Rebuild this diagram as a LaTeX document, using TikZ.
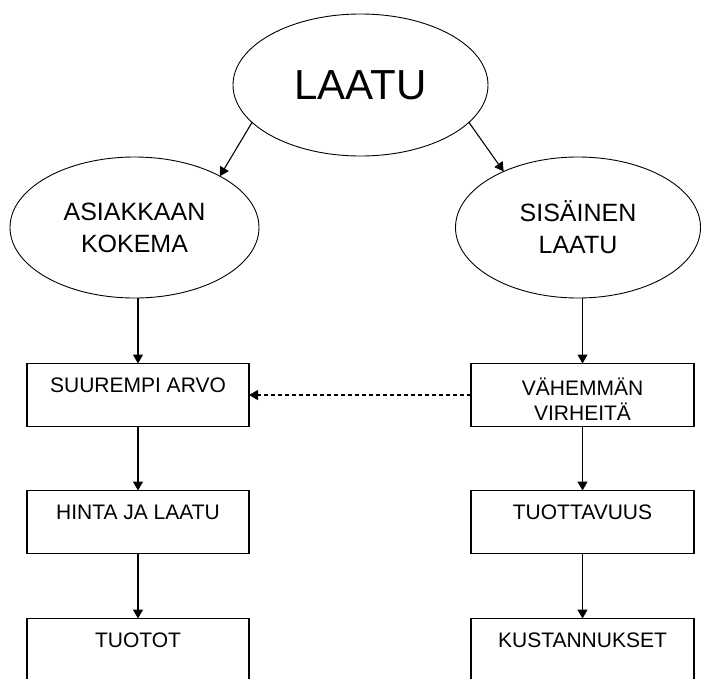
\documentclass[tikz,border=0pt]{standalone}
\usepackage{fontspec}
\setmainfont{Liberation Sans}
\usetikzlibrary{shapes.geometric,arrows.meta}

\begin{document}
\begin{tikzpicture}[x=1pt,y=-1pt,
        oval/.style={draw, ellipse, line width=0.9pt, inner sep=0pt, outer sep=0pt,
            align=center, font=\fontsize{25}{32}\selectfont},
        boxnode/.style={draw, rectangle, line width=1.1pt, minimum width=222pt,
            minimum height=63pt, inner sep=0pt, outer sep=0pt, align=center,
            font=\fontsize{21}{25}\selectfont},
        onerow/.style={boxnode, text height=15pt, text depth=20pt},
        arr/.style={-{Triangle[width=10pt,length=9pt]}, line width=1.1pt}]
    \useasboundingbox (0,0) rectangle (701,678);
    \clip (0,0) rectangle (701,678);
    % ellipses
    \node[oval, minimum width=255pt, minimum height=142pt,
        font=\fontsize{42}{50}\selectfont] (laatu) at (360.5,85) {LAATU};
    \node[oval, minimum width=249pt, minimum height=141pt] (asiakas) at (134.5,227.5) {ASIAKKAAN\\KOKEMA};
    \node[oval, minimum width=245pt, minimum height=141pt] (sisainen) at (578,227.5) {SISÄINEN\\LAATU};
    % boxes
    \node[onerow] (arvo) at (138,395) {SUUREMPI ARVO};
    \node[boxnode, minimum width=223pt, text height=51pt] (virheet) at (582.5,395) {VÄHEMMÄN\\VIRHEITÄ};
    \node[onerow] (hinta) at (138,522) {HINTA JA LAATU};
    \node[onerow, minimum width=223pt] (tuottavuus) at (582.5,522) {TUOTTAVUUS};
    \node[onerow] (tuotot) at (138,650) {TUOTOT};
    \node[onerow, minimum width=223pt] (kustannukset) at (582.5,650) {KUSTANNUKSET};
    % arrows
    \draw[arr] (laatu.199) -- (asiakas.31);
    \draw[arr] (laatu.341) -- (sisainen.143);
    \draw[arr] (arvo.north |- asiakas.south) -- (arvo.north);
    \draw[arr] (virheet.north |- sisainen.south) -- (virheet.north);
    \draw[arr] (arvo) -- (hinta);
    \draw[arr] (hinta) -- (tuotot);
    \draw[arr] (virheet) -- (tuottavuus);
    \draw[arr] (tuottavuus) -- (kustannukset);
    \draw[arr, dash pattern=on 4pt off 3pt] (virheet) -- (arvo);
\end{tikzpicture}
\end{document}
